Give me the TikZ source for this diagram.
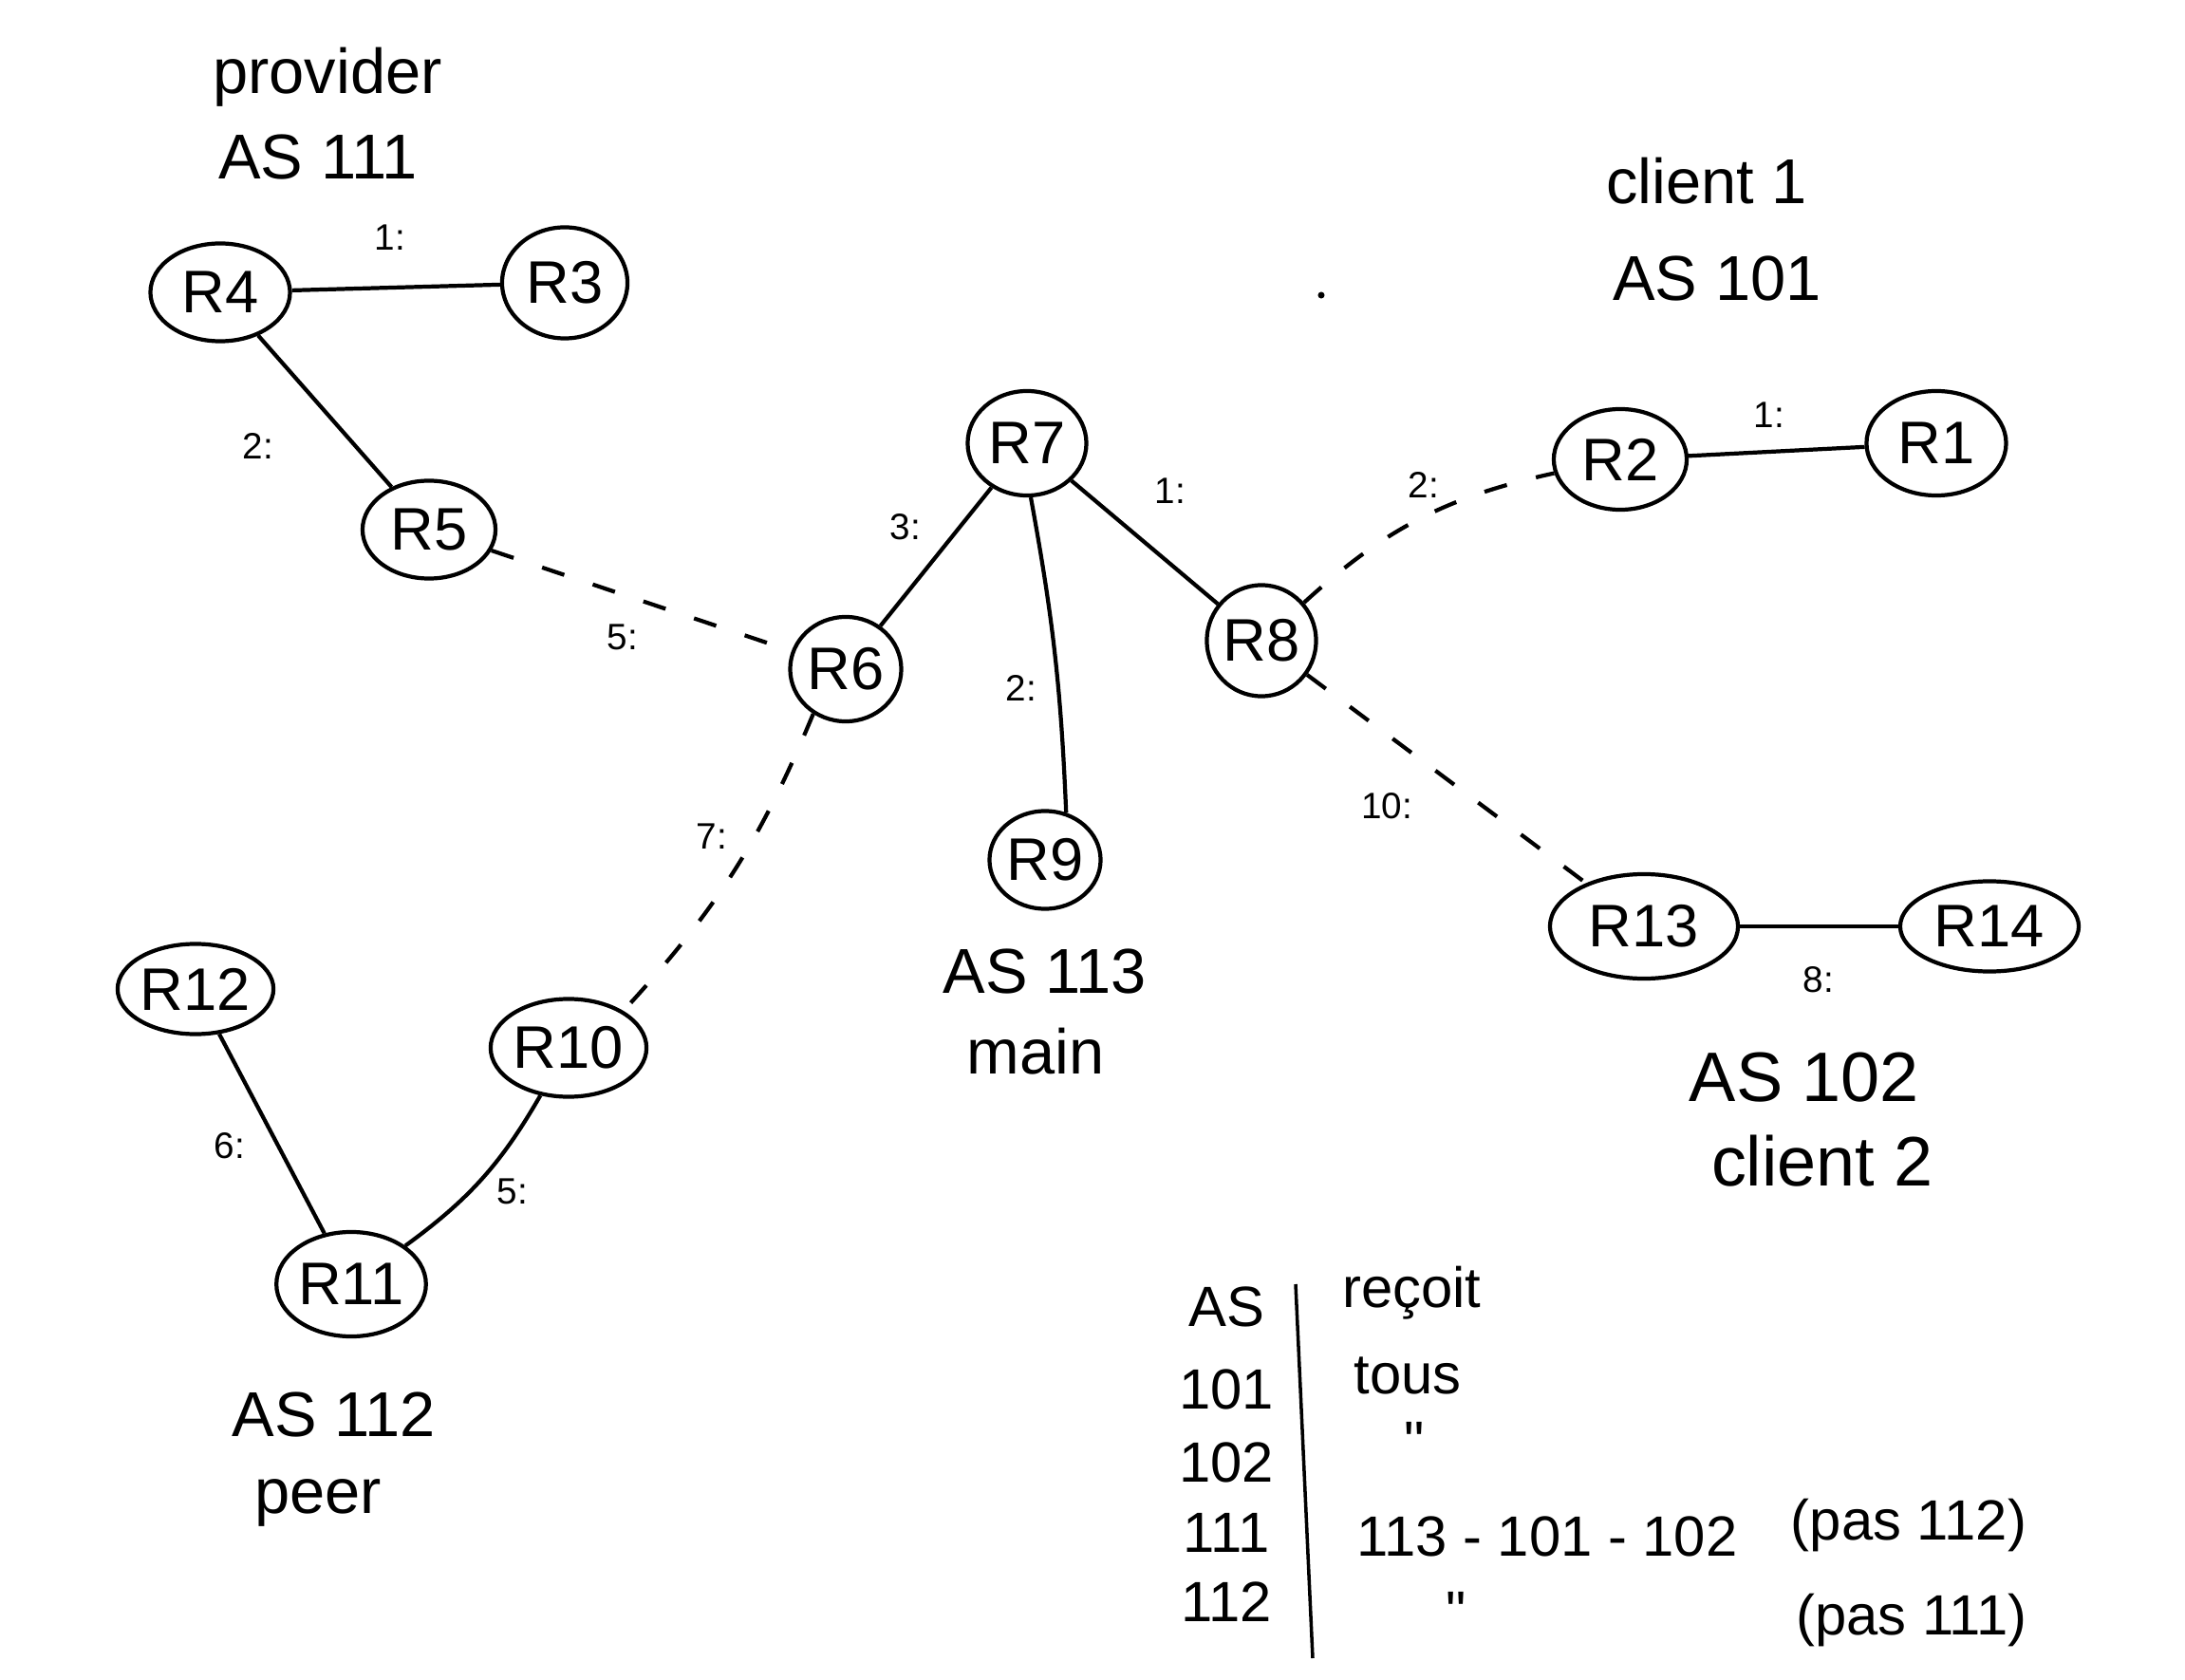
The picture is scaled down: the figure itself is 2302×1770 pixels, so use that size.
\documentclass[tikz,border=0pt]{standalone}
\usepackage{fontspec}
\setmainfont{Liberation Sans}
\newfontfamily\plainfont[Ligatures=ResetAll]{Liberation Sans}
\usetikzlibrary{shapes.geometric}
\begin{document}
\begin{tikzpicture}[x=0.01cm,y=-0.01cm,
  router/.style={ellipse,draw,line width=1.2pt,inner sep=0pt,font=\fontsize{18}{20}\selectfont},
  link/.style={line width=1.2pt},
  peering/.style={line width=1.2pt,dash pattern=on 7pt off 9pt},
  lbl/.style={font=\fontsize{11}{13}\selectfont},
  title/.style={font=\fontsize{19}{22}\selectfont},
  cell/.style={font=\fontsize{17}{20}\selectfont}]
\useasboundingbox (0,0) rectangle (2302,1770);
\fill[white] (0,0) rectangle (2302,1770);

% routers
\node[router,minimum width=1.47cm,minimum height=1.03cm] (R4) at (232,308) {R4};
\node[router,minimum width=1.32cm,minimum height=1.17cm] (R3) at (595,298) {R3};
\node[router,minimum width=1.40cm,minimum height=1.03cm] (R5) at (452,558) {R5};
\node[router,minimum width=1.17cm,minimum height=1.10cm] (R6) at (891,705) {R6};
\node[router,minimum width=1.25cm,minimum height=1.10cm] (R7) at (1082,467) {R7};
\node[router,minimum width=1.15cm,minimum height=1.17cm] (R8) at (1329,675) {R8};
\node[router,minimum width=1.17cm,minimum height=1.03cm] (R9) at (1101,906) {R9};
\node[router,minimum width=1.40cm,minimum height=1.06cm] (R2) at (1707,484) {R2};
\node[router,minimum width=1.47cm,minimum height=1.10cm] (R1) at (2040,467) {R1};
\node[router,minimum width=1.98cm,minimum height=1.10cm] (R13) at (1732,976) {R13};
\node[router,minimum width=1.88cm,minimum height=0.95cm] (R14) at (2096,976) {R14};
\node[router,minimum width=1.40cm,minimum height=0.95cm] (R12) at (206,1042) {R12};
\node[router,minimum width=1.59cm,minimum height=1.03cm] (R10) at (599,1104) {R10};
\node[router,minimum width=1.40cm,minimum height=1.10cm] (R11) at (370,1353) {R11};

% links inside and between the autonomous systems
\draw[link] (R4) -- (R3);
\draw[link] (R4) -- (R5);
\draw[peering] (R5) -- (R6);
\draw[link] (R6) -- (R7);
\draw[link] (R7) -- (R8);
\draw[link] (R7.-86) to[bend left=4] (R9.66);
\draw[peering] (R8) to[bend left=15] (R2);
\draw[link] (R2) -- (R1);
\draw[peering] (R8) -- (R13);
\draw[link] (R13) -- (R14);
\draw[peering] (R6.234) to[bend left=10] (R10.34);
\draw[link] (R12) -- (R11);
\draw[link] (R10) to[bend left=12] (R11);

% link labels
\node[lbl] (l43) at (411,250) {1:};
\node[lbl] (l45) at (272,470) {2:};
\node[lbl] (l56) at (656,671) {5:};
\node[lbl] (l67) at (954,555) {3:};
\node[lbl] (l78) at (1233,517) {1:};
\node[lbl] (l79) at (1076,725) {2:};
\node[lbl] (l82) at (1500,511) {2:};
\node[lbl] (l21) at (1864,437) {1:};
\node[lbl] (l813) at (1461,849) {10:};
\node[lbl] (l1314) at (1916,1032) {8:};
\node[lbl] (l610) at (750,881) {7:};
\node[lbl] (l1211) at (242,1207) {6:};
\node[lbl] (l1011) at (540,1255) {5:};

% autonomous system names
\node[title] (prov) at (345,81) {provider};
\node[title] (as111) at (335,166) {AS 111};
\node[title] (cli1) at (1798,191) {client 1};
\node[title] (as101) at (1809,294) {AS 101};
\node[title] (as113) at (1101,1023) {AS 113};
\node[title] (mainas) at (1091,1108) {main};
\node[title,font=\fontsize{21}{24}\selectfont] (as102) at (1901,1135) {AS 102};
\node[title,font=\fontsize{21}{24}\selectfont] (cli2) at (1920,1223) {client 2};
\node[title] (as112) at (352,1490) {AS 112};
\node[title] (peer) at (335,1583) {peer};
\node[circle,fill,inner sep=0pt,minimum size=2pt] (dot) at (1392,311) {};

% export table
\coordinate (tTop) at (1365,1353);
\coordinate (tBot) at (1383,1747);
\draw[line width=1pt] (tTop) -- (tBot);
\node[cell] (hAS) at (1292,1377) {AS};
\node[cell,anchor=west] (hRx) at (1402,1362) {reçoit};
\node[cell] (r101) at (1292,1464) {101};
\node[cell] (c101) at (1483,1449) {tous};
\node[cell] (r102) at (1292,1541) {102};
\node[cell] (c102) at (1490,1519) {\plainfont "};
\node[cell] (r111) at (1292,1615) {111};
\node[cell,anchor=west] (c111) at (1417,1619) {113 - 101 - 102};
\node[cell] (n111) at (2011,1607) {(pas 112)};
\node[cell] (r112) at (1292,1688) {112};
\node[cell] (c112) at (1534,1698) {\plainfont "};
\node[cell] (n112) at (2014,1707) {(pas 111)};
\end{tikzpicture}
\end{document}
